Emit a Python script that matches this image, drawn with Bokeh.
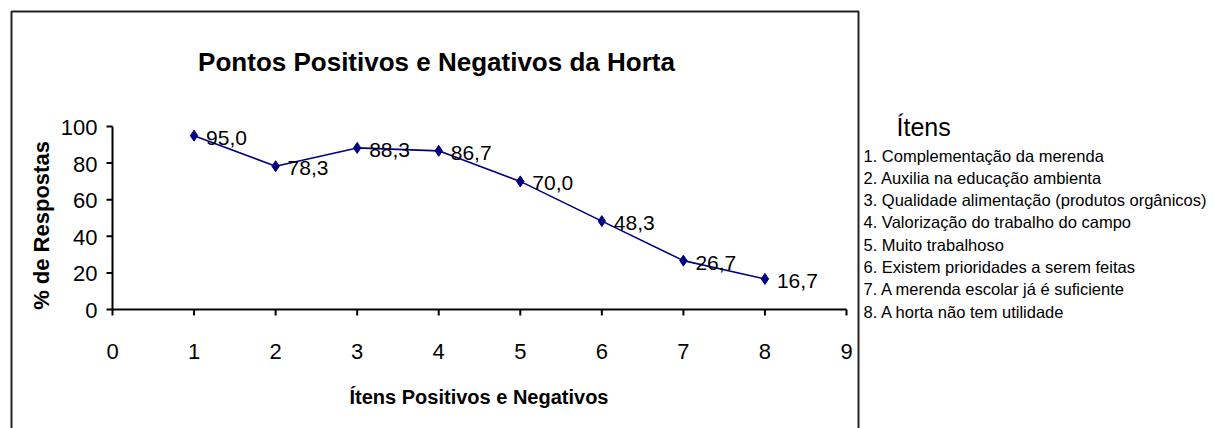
import math
from bokeh.plotting import figure
from bokeh.models import Label, BoxAnnotation, Range1d
from bokeh.core.properties import value
from bokeh.embed import file_html
from bokeh.resources import INLINE

# ---------------- data ----------------
items = [1, 2, 3, 4, 5, 6, 7, 8]
values = [95.0, 78.3, 88.3, 86.7, 70.0, 48.3, 26.7, 16.7]
value_labels = [f"{v:.1f}".replace(".", ",") for v in values]
x_ticks = [0, 1, 2, 3, 4, 5, 6, 7, 8, 9]
y_ticks = [0, 20, 40, 60, 80, 100]
x_tick_labels = [str(t) for t in x_ticks]
y_tick_labels = [str(t) for t in y_ticks]
title_text = "Pontos Positivos e Negativos da Horta"
x_title = "Ítens Positivos e Negativos"
y_title = "% de Respostas"
legend_title = "Ítens"
legend_items = [
    "1. Complementação da merenda",
    "2. Auxilia na educação ambienta",
    "3. Qualidade alimentação (produtos orgânicos)",
    "4. Valorização do trabalho do campo",
    "5. Muito trabalhoso",
    "6. Existem prioridades a serem feitas",
    "7. A merenda escolar já é suficiente",
    "8. A horta não tem utilidade",
]

# ---------------- layout (pixels) ----------------
W, H = 1217, 428
AL, AR, AT, AB = 112, 846, 126, 309   # plotting area edges
X0, X1 = 0, 9
Y0, Y1 = 0, 100
KX = (AR - AL) / (X1 - X0)   # px per x unit
KY = (AB - AT) / (Y1 - Y0)   # px per y unit
FONT = "Liberation Sans"
NAVY = "#000080"


def dx(px):  # pixel x -> data x
    return X0 + (px - AL) / KX


def dy(py):  # pixel y -> data y
    return Y1 - (py - AT) / KY


p = figure(width=W, height=H,
           x_range=Range1d(X0 - AL / KX, X1 + (W - AR) / KX),
           y_range=Range1d(Y0 - (H - AB) / KY, Y1 + AT / KY),
           output_backend="svg", toolbar_location=None,
           x_axis_type=None, y_axis_type=None,
           min_border=0, min_border_left=0, min_border_right=0,
           min_border_top=0, min_border_bottom=0)
p.outline_line_color = None
p.background_fill_color = "white"
p.border_fill_color = "white"

# ---------------- axes ----------------
TICK = 6
p.segment(x0=[x_ticks[0]], y0=[y_ticks[0]], x1=[x_ticks[-1]], y1=[y_ticks[0]],
          line_color="black", line_width=2)
p.segment(x0=[x_ticks[0]], y0=[y_ticks[0]], x1=[x_ticks[0]], y1=[y_ticks[-1]],
          line_color="black", line_width=2)
p.segment(x0=x_ticks, y0=[y_ticks[0]] * len(x_ticks), x1=x_ticks,
          y1=[y_ticks[0] - TICK / KY] * len(x_ticks), line_color="black", line_width=2)
p.segment(x0=[x_ticks[0]] * len(y_ticks), y0=y_ticks,
          x1=[x_ticks[0] - TICK / KX] * len(y_ticks), y1=y_ticks,
          line_color="black", line_width=2)
p.text(x=x_ticks, y=[y_ticks[0]] * len(x_ticks), text=x_tick_labels,
       y_offset=42, text_align="center", text_baseline="alphabetic",
       text_font=value(FONT), text_font_size="22px", text_color="black")
p.text(x=[x_ticks[0]] * len(y_ticks), y=y_ticks, text=y_tick_labels,
       x_offset=-15, y_offset=1, text_align="right", text_baseline="middle",
       text_font=value(FONT), text_font_size="22px", text_color="black")

# ---------------- series ----------------
p.line(x=items, y=values, line_color=NAVY, line_width=1.6)
p.scatter(x=items, y=values, marker="diamond", size=11, color=NAVY)
p.text(x=items, y=values, text=value_labels, x_offset=12, y_offset=2,
       text_align="left", text_baseline="middle",
       text_font=value(FONT), text_font_size="21px", text_color="black")

# ---------------- chart border ----------------
p.add_layout(BoxAnnotation(left=dx(11), right=dx(858), top=dy(11), bottom=dy(700),
                           fill_color=None, fill_alpha=0,
                           line_color="#222222", line_alpha=1.0, line_width=2))

# ---------------- titles ----------------
p.add_layout(Label(x=dx(436), y=dy(61), text=title_text,
                   text_align="center", text_baseline="alphabetic",
                   text_font=FONT, text_font_style="bold",
                   text_font_size="26px", text_color="black"))
p.add_layout(Label(x=dx(478.5), y=dy(396), text=x_title,
                   text_align="center", text_baseline="alphabetic",
                   text_font=FONT, text_font_style="bold",
                   text_font_size="20px", text_color="black"))
p.add_layout(Label(x=dx(41), y=dy(225), text=y_title, angle=math.pi / 2,
                   text_align="center", text_baseline="middle",
                   text_font=FONT, text_font_style="bold",
                   text_font_size="22px", text_color="black"))

# ---------------- item key on the right ----------------
p.add_layout(Label(x=dx(896), y=dy(126), text=legend_title,
                   text_align="left", text_baseline="alphabetic",
                   text_font=FONT, text_font_size="25px", text_color="black"))
for i, t in enumerate(legend_items):
    p.add_layout(Label(x=dx(863), y=dy(155 + 22.3 * i), text=t,
                       text_align="left", text_baseline="middle",
                       text_font=FONT, text_font_size="16.5px", text_color="black"))

open("out.html", "w").write(file_html(p, INLINE))
